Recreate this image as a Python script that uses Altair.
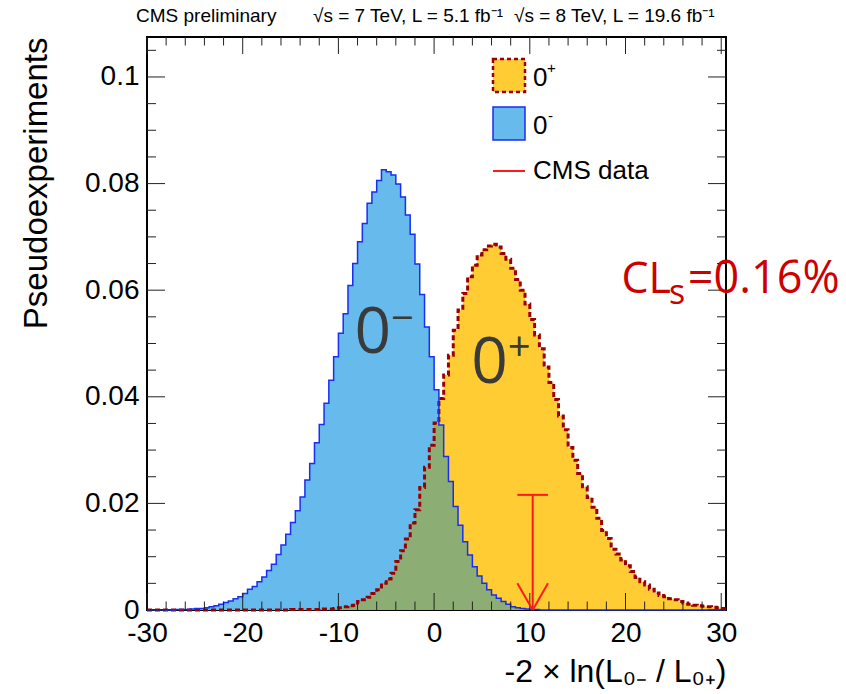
import altair as alt
import pandas as pd

# ---------------- data ----------------
x_min, x_max, bw = -30.0, 30.5, 0.5

# 0- hypothesis pseudo-experiments (blue), bins of 0.5 starting at -27
blue_start = -27.0
blue_vals = [0.0001, 0.0001, 0.0001, 0.0002, 0.0003, 0.0003, 0.0004, 0.0006, 0.0008, 0.0011,
             0.0014, 0.0017, 0.0021, 0.0025, 0.0031, 0.0039, 0.0044, 0.0053, 0.0062, 0.0074,
             0.0086, 0.0104, 0.0122, 0.0142, 0.0164, 0.0186, 0.0212, 0.0244, 0.0275, 0.0314,
             0.0348, 0.0388, 0.0431, 0.0475, 0.0519, 0.0556, 0.0609, 0.0650, 0.0691, 0.0725,
             0.0763, 0.0784, 0.0806, 0.0826, 0.0822, 0.0816, 0.0799, 0.0775, 0.0741, 0.0705,
             0.0649, 0.0592, 0.0531, 0.0475, 0.0413, 0.0347, 0.0288, 0.0241, 0.0194, 0.0159,
             0.0128, 0.0103, 0.0081, 0.0064, 0.0050, 0.0038, 0.0028, 0.0022, 0.0016, 0.0011,
             0.0006, 0.0004, 0.0003, 0.0002, 0.0001, 0.0001]

# 0+ hypothesis pseudo-experiments (yellow), bins of 0.5 starting at -15
yellow_start = -15.0
yellow_vals = [0.0001, 0.0001, 0.0001, 0.0001, 0.0001, 0.0001, 0.0002, 0.0002, 0.0002, 0.0003,
               0.0004, 0.0006, 0.0008, 0.0009, 0.0016, 0.0019, 0.0024, 0.0031, 0.0038, 0.0050,
               0.0058, 0.0069, 0.0091, 0.0111, 0.0133, 0.0163, 0.0188, 0.0230, 0.0268, 0.0309,
               0.0351, 0.0397, 0.0441, 0.0478, 0.0525, 0.0563, 0.0594, 0.0625, 0.0647, 0.0666,
               0.0676, 0.0683, 0.0686, 0.0681, 0.0669, 0.0658, 0.0641, 0.0620, 0.0600, 0.0574,
               0.0545, 0.0516, 0.0490, 0.0456, 0.0427, 0.0395, 0.0364, 0.0338, 0.0305, 0.0281,
               0.0256, 0.0231, 0.0211, 0.0193, 0.0172, 0.0149, 0.0134, 0.0114, 0.0105, 0.0094,
               0.0083, 0.0072, 0.0061, 0.0053, 0.0047, 0.0039, 0.0032, 0.0027, 0.0025, 0.0021,
               0.0019, 0.0016, 0.0013, 0.0011, 0.0009, 0.0008, 0.0007, 0.0006, 0.0005, 0.0004,
               0.0003]

# observed value (CMS data)
obs_x = 10.3
obs_cap_y = 0.0216
obs_cap_half = 1.6
obs_head_h = 0.005

x_major = [-30, -20, -10, 0, 10, 20, 30]
x_minor = [v for v in range(-28, 30, 2) if v % 10 != 0]
y_major = [0.0, 0.02, 0.04, 0.06, 0.08, 0.1]
y_minor = [round(0.005 * i, 3) for i in range(1, 22) if i % 4 != 0]

# ---------------- build tables ----------------
n_bins = int(round((x_max - x_min) / bw))
edges = [x_min + bw * i for i in range(n_bins + 1)]


def full(start, vals):
    pre = int(round((start - x_min) / bw))
    arr = [0.0] * pre + list(vals)
    arr = arr + [0.0] * (n_bins - len(arr))
    return arr[:n_bins]


b_full = full(blue_start, blue_vals)
y_full = full(yellow_start, yellow_vals)
hist = pd.DataFrame({"x": edges, "b": b_full + [b_full[-1]], "yv": y_full + [y_full[-1]]})

W, H = 579, 573
xs = alt.Scale(domain=[x_min, x_max], nice=False, zero=False)
ys = alt.Scale(domain=[0, 0.1075], nice=False, zero=False)

YELLOW = "#FFCC33"
BLUE = "#66BAEC"
GREEN = "#8CAE74"
DRED = "#9A0000"
BLINE = "#1A2EF0"
RED = "#FF1A1A"

base = alt.Chart(hist)

yellow_area = base.mark_area(interpolate="step-after", color=YELLOW).encode(
    x=alt.X("x:Q", scale=xs,
            axis=alt.Axis(values=x_major, ticks=False, domain=False, grid=False,
                          labelExpr="datum.value < 0 ? '-' + abs(datum.value) : '' + datum.value",
                          labelFont="Liberation Sans", labelFontSize=28, labelColor="black",
                          labelPadding=9, labelFlush=False, labelOverlap=False,
                          title="-2 × ln(L₀₋ / L₀₊)", titleFont="Liberation Sans",
                          titleFontSize=32, titleFontWeight="normal", titleColor="black",
                          titleAnchor="end", titleAlign="right", titleBaseline="alphabetic",
                          titleX=W, titleY=71)),
    y=alt.Y("yv:Q", scale=ys,
            axis=alt.Axis(values=y_major, ticks=False, domain=False, grid=False,
                          labelExpr="datum.value == 0 ? '0' : format(datum.value, '~g')",
                          labelFont="Liberation Sans", labelFontSize=28, labelColor="black",
                          labelPadding=8, labelFlush=False, labelOverlap=False,
                          title="Pseudoexperiments", titleFont="Liberation Sans",
                          titleFontSize=33, titleFontWeight="normal", titleColor="black",
                          titleAngle=270, titleAlign="right", titleBaseline="alphabetic",
                          titleX=-101, titleY=0)),
)
blue_area = base.mark_area(interpolate="step-after", color=BLUE).encode(
    x=alt.X("x:Q", scale=xs), y=alt.Y("b:Q", scale=ys))
over_area = base.transform_calculate(m="min(datum.b, datum.yv)").mark_area(
    interpolate="step-after", color=GREEN).encode(
    x=alt.X("x:Q", scale=xs), y=alt.Y("m:Q", scale=ys))
yellow_line = base.mark_line(interpolate="step-after", color=DRED, strokeWidth=3,
                             strokeDash=[5, 3]).encode(
    x=alt.X("x:Q", scale=xs), y=alt.Y("yv:Q", scale=ys))
blue_line = base.mark_line(interpolate="step-after", color=BLINE, strokeWidth=1.5).encode(
    x=alt.X("x:Q", scale=xs), y=alt.Y("b:Q", scale=ys))

# ---------------- ticks (ROOT style, inside frame) ----------------
TC = "#222222"
xmaj_df = pd.DataFrame({"v": x_major})
xmin_df = pd.DataFrame({"v": x_minor})
ymaj_df = pd.DataFrame({"v": y_major})
ymin_df = pd.DataFrame({"v": y_minor})


def xticks(df, ln):
    c = alt.Chart(df).mark_rule(color=TC, strokeWidth=1)
    return (c.encode(x=alt.X("v:Q", scale=xs), y=alt.value(H), y2=alt.value(H - ln)) +
            c.encode(x=alt.X("v:Q", scale=xs), y=alt.value(0), y2=alt.value(ln)))


def yticks(df, ln):
    c = alt.Chart(df).mark_rule(color=TC, strokeWidth=1)
    return (c.encode(y=alt.Y("v:Q", scale=ys), x=alt.value(0), x2=alt.value(ln)) +
            c.encode(y=alt.Y("v:Q", scale=ys), x=alt.value(W), x2=alt.value(W - ln)))


ticks = xticks(xmaj_df, 17) + xticks(xmin_df, 8.5) + yticks(ymaj_df, 18) + yticks(ymin_df, 9)

# ---------------- CMS data arrow ----------------
seg = pd.DataFrame({
    "x1": [obs_x, obs_x - obs_cap_half, obs_x - obs_cap_half, obs_x + obs_cap_half],
    "x2": [obs_x, obs_x + obs_cap_half, obs_x, obs_x],
    "y1": [0.0, obs_cap_y, obs_head_h, obs_head_h],
    "y2": [obs_cap_y, obs_cap_y, 0.0, 0.0],
})
arrow = alt.Chart(seg).mark_rule(color=RED, strokeWidth=2).encode(
    x=alt.X("x1:Q", scale=xs), x2="x2:Q", y=alt.Y("y1:Q", scale=ys), y2="y2:Q")

# ---------------- annotations ----------------
ann = pd.DataFrame({
    "x": [-6.4, 5.8],
    "y": [0.0482, 0.0426],
    "t": ["0", "0"],
})
big0 = alt.Chart(ann).mark_text(font="Open Sans", fontSize=64, color="#3A3A3A",
                                align="center", baseline="alphabetic").encode(
    x=alt.X("x:Q", scale=xs), y=alt.Y("y:Q", scale=ys), text="t:N")
sup = pd.DataFrame({"x": [-3.3, 8.9], "y": [0.0545, 0.0489], "t": ["−", "+"]})
bigsup = alt.Chart(sup).mark_text(font="Open Sans", fontSize=40, color="#3A3A3A",
                                  align="center", baseline="middle").encode(
    x=alt.X("x:Q", scale=xs), y=alt.Y("y:Q", scale=ys), text="t:N")

cls_x = [24.75, 24.55, 26.5]
cls_y = [0.0594, 0.0574, 0.0594]
cls_t = ["CL", "s", "=0.16%"]
cls_sz = [43, 34, 45]
cls_al = ["right", "left", "left"]
cls_marks = []
for cx, cy, ct, cz, ca in zip(cls_x, cls_y, cls_t, cls_sz, cls_al):
    d = pd.DataFrame({"x": [cx], "y": [cy], "t": [ct]})
    cls_marks.append(alt.Chart(d).mark_text(font="Open Sans", fontSize=cz, color="#CC0000",
                                            align=ca, baseline="alphabetic").encode(
        x=alt.X("x:Q", scale=xs), y=alt.Y("y:Q", scale=ys), text="t:N"))

# ---------------- legend (manual, ROOT style) ----------------
leg_one = pd.DataFrame({"d": [0]})
lg = alt.Chart(leg_one)
leg_y = lg.mark_rect(fill=YELLOW, stroke=DRED, strokeWidth=2.5, strokeDash=[4, 3]).encode(
    x=alt.value(346), x2=alt.value(378), y=alt.value(22), y2=alt.value(55))
leg_b = lg.mark_rect(fill=BLUE, stroke=BLINE, strokeWidth=1.5).encode(
    x=alt.value(346), x2=alt.value(378), y=alt.value(70), y2=alt.value(103))
leg_r = lg.mark_rule(color=RED, strokeWidth=2).encode(
    x=alt.value(346), x2=alt.value(378), y=alt.value(134))
LF = "Liberation Sans"
leg_t1 = lg.mark_text(font=LF, fontSize=26, align="left", baseline="alphabetic", color="black",
                      text="0").encode(x=alt.value(386), y=alt.value(49))
leg_s1 = lg.mark_text(font=LF, fontSize=15, align="left", baseline="alphabetic", color="black",
                      text="+").encode(x=alt.value(400), y=alt.value(36))
leg_t2 = lg.mark_text(font=LF, fontSize=26, align="left", baseline="alphabetic", color="black",
                      text="0").encode(x=alt.value(386), y=alt.value(97))
leg_s2 = lg.mark_text(font=LF, fontSize=15, align="left", baseline="alphabetic", color="black",
                      text="-").encode(x=alt.value(401), y=alt.value(84))
leg_t3 = lg.mark_text(font=LF, fontSize=26, align="left", baseline="middle", color="black",
                      text="CMS data").encode(x=alt.value(386), y=alt.value(134))

# ---------------- header ----------------
hdr = pd.DataFrame({"px": [-11, 166, 367],
                    "t": ["CMS preliminary", "√s = 7 TeV, L = 5.1 fb⁻¹", "√s = 8 TeV, L = 19.6 fb⁻¹"]})
header = alt.Chart(hdr).mark_text(font=LF, fontSize=19, align="left", baseline="alphabetic",
                                  color="black").encode(
    x=alt.X("px:Q", scale=None), y=alt.value(-15), text="t:N")

chart = alt.layer(
    yellow_area, blue_area, over_area, yellow_line, blue_line, ticks, arrow,
    big0, bigsup, *cls_marks,
    leg_y, leg_b, leg_r, leg_t1, leg_s1, leg_t2, leg_s2, leg_t3, header,
).properties(
    width=W, height=H,
    autosize=alt.AutoSizeParams(type="none"),
    padding={"left": 147, "top": 37, "right": 846 - 147 - W, "bottom": 694 - 37 - H},
    background="white",
).configure_view(stroke="black", strokeWidth=2)

chart.save("out.html", embed_options={"renderer": "svg", "actions": False})
